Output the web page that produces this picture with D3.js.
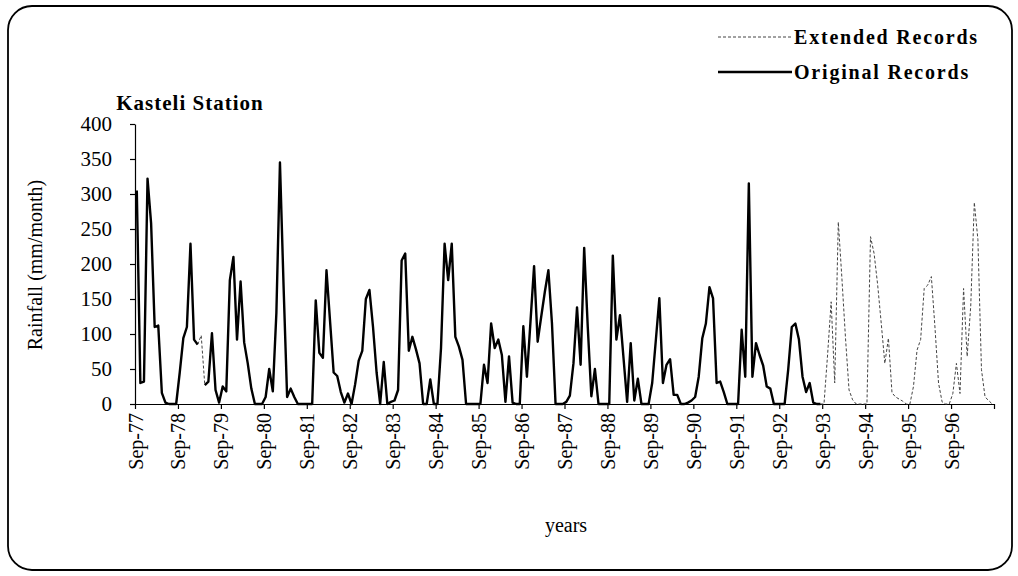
<!DOCTYPE html>
<html>
<head>
<meta charset="utf-8">
<script src="https://cdn.jsdelivr.net/npm/d3@7"></script>
<style>
    body { margin: 0; background: #fff; }
    svg { display: block; font-family: "Liberation Serif", "Times New Roman", serif; }
    .axis path, .axis line { stroke: #000; stroke-width: 1.2; }
    .axis text { font-family: "Liberation Serif", "Times New Roman", serif; font-size: 21px; fill: #000; }
    .x-axis text { font-size: 20px; }
</style>
</head>
<body>
<svg id="chart"></svg>
<script>
// Tick labels on the category axis (one every 12 months, starting Sep-77)
const tickLabels = [
    "Sep-77", "Sep-78", "Sep-79", "Sep-80", "Sep-81", "Sep-82", "Sep-83",
    "Sep-84", "Sep-85", "Sep-86", "Sep-87", "Sep-88", "Sep-89", "Sep-90",
    "Sep-91", "Sep-92", "Sep-93", "Sep-94", "Sep-95", "Sep-96",
];
const monthCount = 240;

// Original records, monthly rainfall (mm/month) from Sep-77, one row per hydrological year
const originalRecords = [
    305, 30, 32, 322, 258, 110, 112, 16, 2, 0, 0, 0,
    45, 94, 110, 229, 92, 85, null, 27, 32, 101, 20, 2,
    25, 18, 177, 210, 92, 175, 88, 58, 22, 0, 0, 0,
    10, 50, 18, 130, 345, 170, 10, 22, 10, 0, 0, 0,
    0, 0, 148, 73, 66, 191, 118, 45, 40, 17, 2, 15,
    0, 28, 62, 76, 150, 163, 110, 45, 0, 60, 0, 3,
    5, 20, 205, 215, 76, 96, 78, 58, 0, 0, 35, 0,
    0, 80, 229, 177, 229, 96, 82, 63, 0, 0, 0, 0,
    0, 56, 30, 115, 80, 92, 70, 3, 68, 2, 0, 0,
    111, 39, 118, 197, 89, 125, 160, 191, 115, 0, 0, 0,
    3, 12, 58, 138, 56, 223, 110, 11, 50, 0, 0, 0,
    0, 212, 92, 127, 65, 3, 87, 5, 36, 0, 0, 0,
    30, 90, 151, 30, 56, 64, 13, 13, 0, 0, 2, 5,
    10, 39, 94, 115, 167, 151, 30, 32, 17, 0, 0, 0,
    0, 106, 39, 315, 39, 87, 70, 55, 25, 22, 0, 0,
    0, 0, 49, 110, 115, 92, 39, 17, 30, 2, 0, 0,
];

// Extended records: a short gap fill in 1979 and the extension after the original series
const gapFillStart = 17;
const gapFill = [85, 98, 27];
const extensionStart = 191;
const extension = [
    0,
    0, 70, 146, 30, 260, 180, 95, 20, 6, 0, 0, 0,
    0, 239, 215, 170, 115, 58, 94, 16, 10, 7, 4, 0,
    0, 25, 77, 92, 165, 170, 182, 110, 30, 3, 0, 0,
    15, 58, 15, 165, 68, 140, 288, 235, 49, 10, 5, 0,
];

const yTicks = [0, 50, 100, 150, 200, 250, 300, 350, 400];

class RainfallChart {
    constructor(_config) {
        this.config = {
            parentElement: _config.parentElement,
            containerWidth: _config.containerWidth || 1018,
            containerHeight: _config.containerHeight || 576,
            margin: { top: 124, right: 24, bottom: 172, left: 135 },
        };
        this.initVis();
    }

    initVis() {
        let vis = this;

        vis.width = vis.config.containerWidth - vis.config.margin.left - vis.config.margin.right;
        vis.height = vis.config.containerHeight - vis.config.margin.top - vis.config.margin.bottom;

        vis.svg = d3.select(vis.config.parentElement)
            .attr("width", vis.config.containerWidth)
            .attr("height", vis.config.containerHeight);

        // rounded frame around the whole chart
        vis.svg.append("rect")
            .attr("x", 8).attr("y", 6)
            .attr("width", 1004).attr("height", 564)
            .attr("rx", 24).attr("ry", 24)
            .attr("fill", "none")
            .attr("stroke", "#000")
            .attr("stroke-width", 1.8);

        // months are categories, the point sits in the middle of its slot
        vis.xScale = d3.scaleLinear().domain([0, monthCount]).range([0, vis.width]);
        vis.yScale = d3.scaleLinear().domain([0, 400]).range([vis.height, 0]);

        vis.xAxis = d3.axisBottom(vis.xScale)
            .tickValues(d3.range(0, monthCount + 1, 12))
            .tickFormat((d, i) => tickLabels[i] || "")
            .tickSize(5)
            .tickSizeOuter(0);

        vis.yAxis = d3.axisLeft(vis.yScale)
            .tickValues(yTicks)
            .tickSize(5)
            .tickPadding(18)
            .tickSizeOuter(0);

        vis.chart = vis.svg.append("g")
            .attr("transform", `translate(${vis.config.margin.left},${vis.config.margin.top})`);

        vis.xAxisG = vis.chart.append("g")
            .attr("class", "axis x-axis")
            .attr("transform", `translate(0,${vis.height})`);

        vis.yAxisG = vis.chart.append("g").attr("class", "axis y-axis");

        // Titles
        vis.svg.append("text")
            .attr("x", 190).attr("y", 110)
            .attr("text-anchor", "middle")
            .style("font-size", "21px")
            .style("font-weight", "bold")
            .style("letter-spacing", "1px")
            .text("Kasteli Station");

        vis.svg.append("text")
            .attr("transform", "translate(42,265) rotate(-90)")
            .attr("text-anchor", "middle")
            .style("font-size", "20px")
            .text("Rainfall (mm/month)");

        vis.svg.append("text")
            .attr("x", 566).attr("y", 532)
            .attr("text-anchor", "middle")
            .style("font-size", "20px")
            .text("years");

        // Legend
        const legend = [
            { label: "Extended Records", y: 37, dash: "3,2", width: 1, color: "#444" },
            { label: "Original Records", y: 72, dash: null, width: 2.4, color: "#000" },
        ];
        const lg = vis.svg.selectAll(".legend")
            .data(legend)
            .join("g")
            .attr("class", "legend");
        lg.append("line")
            .attr("x1", 718).attr("x2", 792)
            .attr("y1", (d) => d.y).attr("y2", (d) => d.y)
            .attr("stroke", (d) => d.color)
            .attr("stroke-width", (d) => d.width)
            .attr("stroke-dasharray", (d) => d.dash);
        lg.append("text")
            .attr("x", 794)
            .attr("y", (d) => d.y + 7)
            .style("font-size", "20px")
            .style("font-weight", "bold")
            .style("letter-spacing", "1.8px")
            .text((d) => d.label);
    }

    updateVis() {
        let vis = this;

        vis.originalData = originalRecords.map((v, i) => ({ month: i, value: v }));

        const ext = new Array(monthCount).fill(null);
        gapFill.forEach((v, k) => { ext[gapFillStart + k] = v; });
        extension.forEach((v, k) => { ext[extensionStart + k] = v; });
        vis.extendedData = ext.map((v, i) => ({ month: i, value: v }));

        vis.line = d3.line()
            .defined((d) => d.value !== null)
            .x((d) => vis.xScale(d.month + 0.5))
            .y((d) => vis.yScale(d.value));

        vis.renderVis();
    }

    renderVis() {
        let vis = this;

        vis.xAxisG.call(vis.xAxis);
        vis.yAxisG.call(vis.yAxis);

        vis.xAxisG.selectAll("text")
            .attr("text-anchor", "end")
            .attr("transform", "rotate(-90)")
            .attr("x", -9)
            .attr("y", 0)
            .attr("dy", "0.35em");

        vis.chart.append("path")
            .datum(vis.extendedData)
            .attr("fill", "none")
            .attr("stroke", "#444")
            .attr("stroke-width", 1)
            .attr("stroke-dasharray", "3,2")
            .attr("d", vis.line);

        vis.chart.append("path")
            .datum(vis.originalData)
            .attr("fill", "none")
            .attr("stroke", "#000")
            .attr("stroke-width", 2.4)
            .attr("stroke-linejoin", "round")
            .attr("d", vis.line);
    }
}

const chart = new RainfallChart({ parentElement: "#chart" });
chart.updateVis();
</script>
</body>
</html>
